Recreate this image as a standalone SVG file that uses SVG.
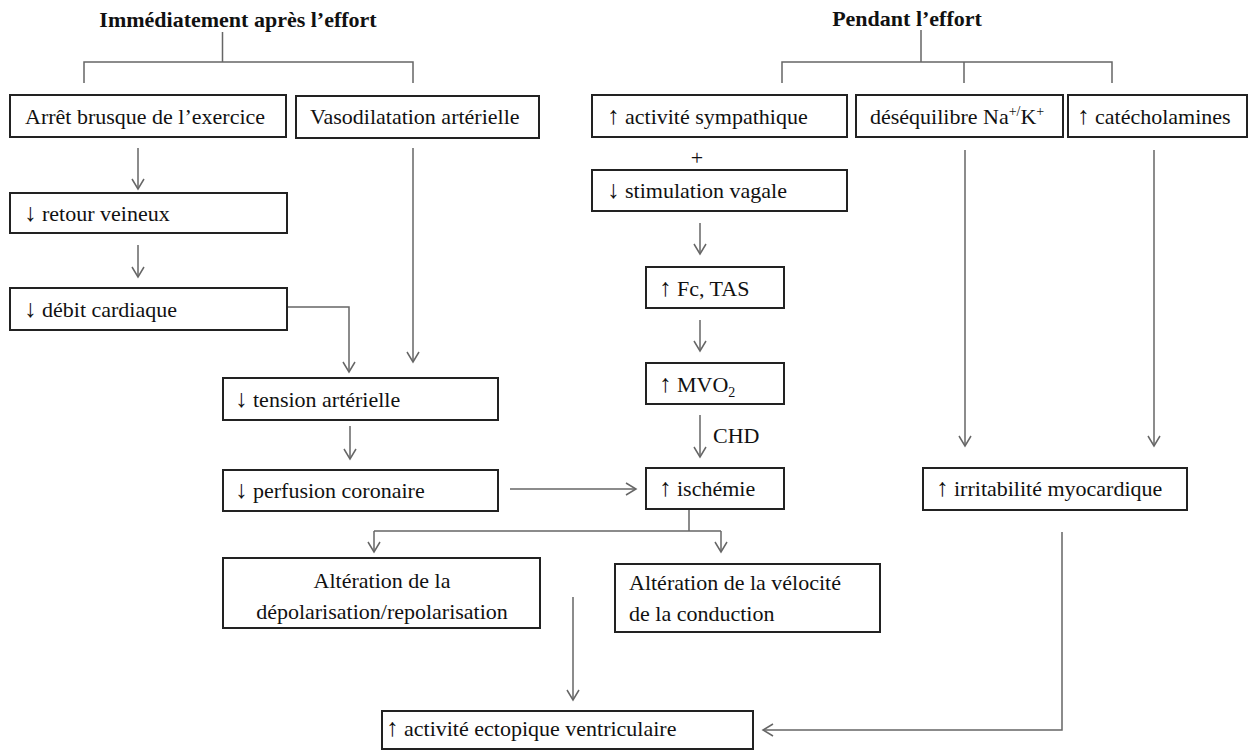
<svg xmlns="http://www.w3.org/2000/svg" width="1253" height="752" viewBox="0 0 1253 752">
<style>
.bg{fill:#ffffff}
.box{fill:#ffffff;stroke:#222;stroke-width:2}
.t{font-family:"Liberation Serif","Times New Roman",serif;font-size:22px;fill:#111}
.a{font-size:25px}
.title{font-family:"Liberation Serif","Times New Roman",serif;font-size:22px;font-weight:bold;fill:#111}
.c{text-anchor:middle}
.ln{fill:none;stroke:#666;stroke-width:1.5}
.ar{fill:none;stroke:#666;stroke-width:1.5;marker-end:url(#ah)}
</style>
<defs>
<marker id="ah" markerUnits="userSpaceOnUse" markerWidth="16" markerHeight="16" refX="12" refY="8" orient="auto" viewBox="0 0 16 16">
<path d="M2,2 L12,8 L2,14" fill="none" stroke="#666" stroke-width="1.5"/>
</marker>
</defs>
<rect class="bg" x="0" y="0" width="1253" height="752"/>

<g id="titles">
<text class="title c" x="238" y="27">Immédiatement après l’effort</text>
<text class="title c" x="907" y="26">Pendant  l’effort</text>
</g>

<g id="connectors">
<path class="ln" d="M222.5,32 V62 M84,83 V62 H413 V83"/>
<path class="ln" d="M921,30 V62 M782,83 V62 H1112 V83 M964,62 V83"/>
<path class="ar" d="M138,148 V189"/>
<path class="ar" d="M138,245 V277"/>
<path class="ar" d="M287,307 H349 V372"/>
<path class="ar" d="M413,148 V362"/>
<path class="ar" d="M350,426 V459"/>
<path class="ar" d="M510,489 H636"/>
<path class="ar" d="M700,223 V254"/>
<path class="ar" d="M700,320 V351"/>
<path class="ar" d="M700,415 V457"/>
<path class="ln" d="M689,509 V531 M374,531 H721"/>
<path class="ar" d="M374,531 V552"/>
<path class="ar" d="M721,531 V552"/>
<path class="ar" d="M573,597 V700"/>
<path class="ar" d="M965,150 V446"/>
<path class="ar" d="M1154,150 V446"/>
<path class="ar" d="M1062,532 V730 H763"/>
</g>

<g id="plus"><text class="t c" x="697" y="165">+</text></g>
<g id="chd"><text class="t" x="713" y="443">CHD</text></g>

<g id="arret"><rect class="box" x="10" y="95" width="276" height="42"/><text class="t" x="25" y="124">Arrêt brusque de l’exercice</text></g>
<g id="vasodilatation"><rect class="box" x="296" y="96" width="243" height="42"/><text class="t" x="310" y="124">Vasodilatation artérielle</text></g>
<g id="sympathique"><rect class="box" x="592" y="95" width="255" height="42"/><text class="t" x="607" y="124"><tspan class="a">↑</tspan> activité sympathique</text></g>
<g id="desequilibre"><rect class="box" x="856" y="95" width="207" height="42"/><text class="t" x="870" y="124">déséquilibre Na<tspan font-size="14" dy="-8">+/</tspan><tspan dy="8">K</tspan><tspan font-size="14" dy="-8">+</tspan></text></g>
<g id="catecholamines"><rect class="box" x="1068" y="95" width="179" height="42"/><text class="t" x="1077" y="124"><tspan class="a">↑</tspan> catécholamines</text></g>
<g id="vagale"><rect class="box" x="592" y="170" width="255" height="41"/><text class="t" x="607" y="198"><tspan class="a">↓</tspan> stimulation vagale</text></g>
<g id="retour"><rect class="box" x="10" y="193" width="277" height="40"/><text class="t" x="24" y="221"><tspan class="a">↓</tspan> retour veineux</text></g>
<g id="debit"><rect class="box" x="10" y="288" width="277" height="42"/><text class="t" x="24" y="317"><tspan class="a">↓</tspan> débit cardiaque</text></g>
<g id="fc"><rect class="box" x="646" y="267" width="138" height="41"/><text class="t" x="659" y="296"><tspan class="a">↑</tspan> Fc, TAS</text></g>
<g id="mvo2"><rect class="box" x="646" y="363" width="138" height="41"/><text class="t" x="659" y="392"><tspan class="a">↑</tspan> MVO<tspan font-size="14" dy="5">2</tspan></text></g>
<g id="tension"><rect class="box" x="223" y="378" width="275" height="42"/><text class="t" x="235" y="407"><tspan class="a">↓</tspan> tension artérielle</text></g>
<g id="perfusion"><rect class="box" x="223" y="470" width="275" height="41"/><text class="t" x="235" y="498"><tspan class="a">↓</tspan> perfusion coronaire</text></g>
<g id="ischemie"><rect class="box" x="646" y="468" width="138" height="41"/><text class="t" x="659" y="496"><tspan class="a">↑</tspan> ischémie</text></g>
<g id="irritabilite"><rect class="box" x="923" y="468" width="264" height="42"/><text class="t" x="936" y="496"><tspan class="a">↑</tspan> irritabilité  myocardique</text></g>
<g id="depolarisation"><rect class="box" x="223" y="558" width="317" height="70"/><text class="t c" x="382" y="588">Altération de la</text><text class="t c" x="382" y="619">dépolarisation/repolarisation</text></g>
<g id="velocite"><rect class="box" x="615" y="564" width="265" height="68"/><text class="t" x="629" y="590">Altération de la vélocité</text><text class="t" x="629" y="621">de la conduction</text></g>
<g id="ectopique"><rect class="box" x="382" y="711" width="371" height="38"/><text class="t" x="386" y="736"><tspan class="a">↑</tspan> activité ectopique  ventriculaire</text></g>
</svg>
